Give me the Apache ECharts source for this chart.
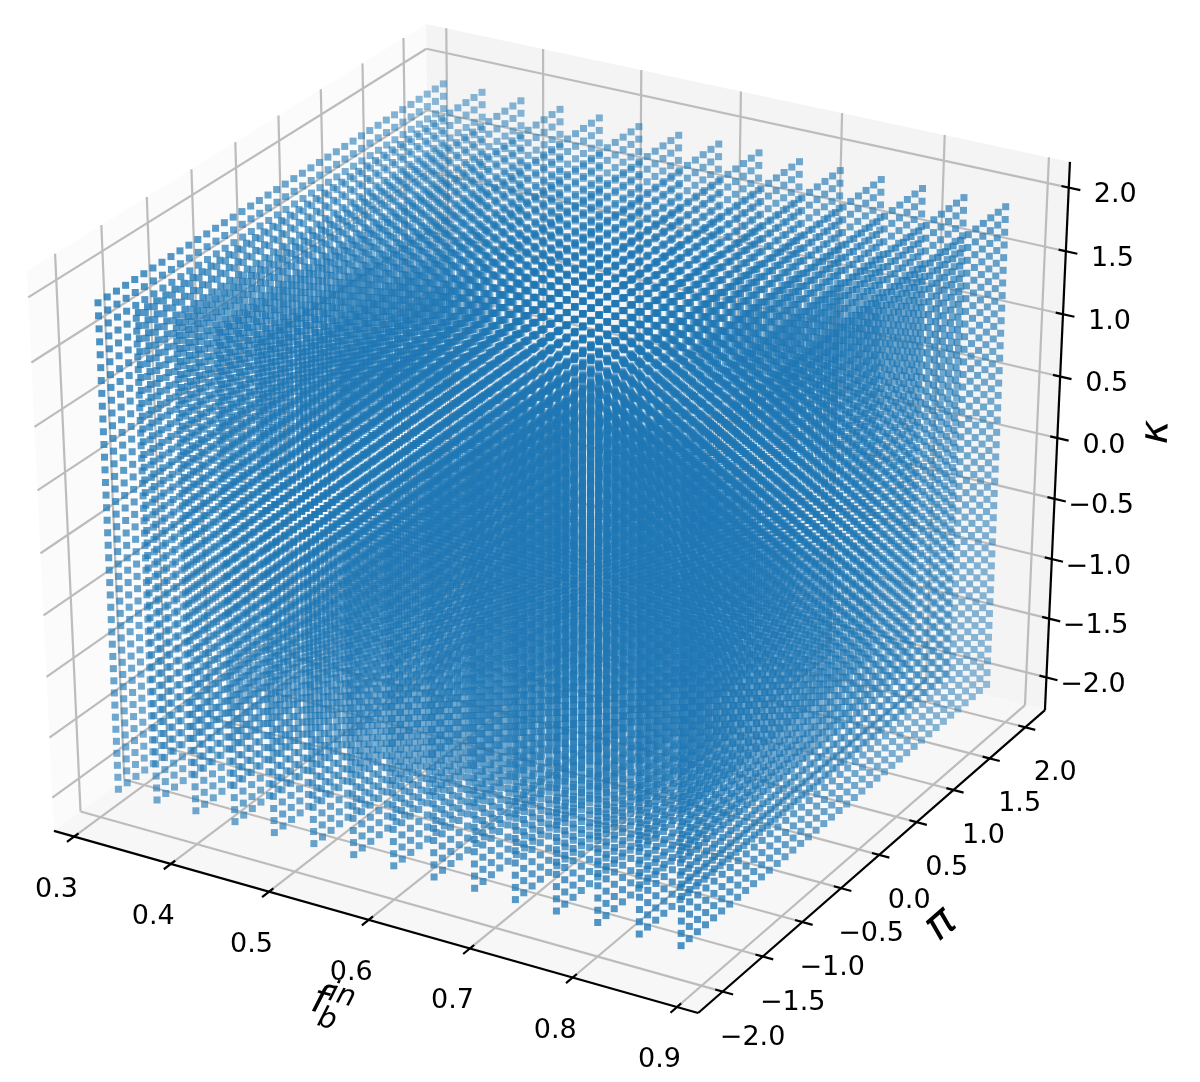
<!DOCTYPE html>
<html>
<head>
<meta charset="utf-8">
<title>scatter cube</title>
<script src="https://cdn.jsdelivr.net/npm/echarts@6/dist/echarts.min.js"></script>
<style>
html, body { margin: 0; padding: 0; background: #fff; }
#chart { width: 1200px; height: 1082px; }
</style>
</head>
<body>
<div id="chart"></div>
<script>
// grid of sampled parameters
const fValues = [0.32, 0.36, 0.40, 0.44, 0.48, 0.52, 0.56, 0.60, 0.64, 0.68, 0.72, 0.76, 0.80, 0.84, 0.88];
const piValues = [-2.0, -1.9, -1.8, -1.7, -1.6, -1.5, -1.4, -1.3, -1.2, -1.1, -1.0, -0.9, -0.8, -0.7, -0.6, -0.5, -0.4, -0.3, -0.2, -0.1,
  0.0, 0.1, 0.2, 0.3, 0.4, 0.5, 0.6, 0.7, 0.8, 0.9, 1.0, 1.1, 1.2, 1.3, 1.4, 1.5, 1.6, 1.7, 1.8, 1.9, 2.0];
const kappaValues = [-2.0, -1.9, -1.8, -1.7, -1.6, -1.5, -1.4, -1.3, -1.2, -1.1, -1.0, -0.9, -0.8, -0.7, -0.6, -0.5, -0.4, -0.3, -0.2, -0.1,
  0.0, 0.1, 0.2, 0.3, 0.4, 0.5, 0.6, 0.7, 0.8, 0.9, 1.0, 1.1, 1.2, 1.3, 1.4, 1.5, 1.6, 1.7, 1.8, 1.9];

const fTicks = [0.3, 0.4, 0.5, 0.6, 0.7, 0.8, 0.9];
const piTicks = [-2.0, -1.5, -1.0, -0.5, 0.0, 0.5, 1.0, 1.5, 2.0];
const kappaTicks = [-2.0, -1.5, -1.0, -0.5, 0.0, 0.5, 1.0, 1.5, 2.0];

// axis box limits
const fLim = [0.279, 0.92];
const piLim = [-2.3, 2.28];
const kappaLim = [-2.28, 2.2];

// where six corners of the unit box land on the page, fits the camera
const boxCorners = [[0, 0, 0], [1, 0, 0], [1, 1, 0], [1, 1, 1], [0, 1, 1], [0, 0, 1]];
const cornerPixels = [[54, 831], [698, 1013], [1045, 710], [1070, 162], [426, 24], [27, 271]];

function fitCamera() {
  let A = [], b = [];
  boxCorners.forEach((c, i) => {
    let u = cornerPixels[i][0] / 1000, v = cornerPixels[i][1] / 1000;
    A.push([c[0], c[1], c[2], 1, 0, 0, 0, 0, -u * c[0], -u * c[1], -u * c[2]]);
    b.push(u);
    A.push([0, 0, 0, 0, c[0], c[1], c[2], 1, -v * c[0], -v * c[1], -v * c[2]]);
    b.push(v);
  });
  let n = 11;
  let M = [];
  for (let i = 0; i < n; i++) {
    M.push([]);
    for (let j = 0; j <= n; j++) {
      let s = 0;
      for (let r = 0; r < A.length; r++) s += A[r][i] * (j < n ? A[r][j] : b[r]);
      M[i].push(s);
    }
  }
  for (let i = 0; i < n; i++) {
    let p = i;
    for (let r = i + 1; r < n; r++) if (Math.abs(M[r][i]) > Math.abs(M[p][i])) p = r;
    [M[i], M[p]] = [M[p], M[i]];
    for (let r = 0; r < n; r++) {
      if (r === i) continue;
      let k = M[r][i] / M[i][i];
      for (let j = i; j <= n; j++) M[r][j] -= k * M[i][j];
    }
  }
  return M.map((row, i) => row[n] / row[i]);
}
const cam = fitCamera();

function norm(f, p, k) {
  return [(f - fLim[0]) / (fLim[1] - fLim[0]), (p - piLim[0]) / (piLim[1] - piLim[0]), (k - kappaLim[0]) / (kappaLim[1] - kappaLim[0])];
}
function project(f, p, k) {
  let [x, y, z] = norm(f, p, k);
  let w = cam[8] * x + cam[9] * y + cam[10] * z + 1;
  return [1000 * (cam[0] * x + cam[1] * y + cam[2] * z + cam[3]) / w, 1000 * (cam[4] * x + cam[5] * y + cam[6] * z + cam[7]) / w];
}

// points, furthest from the viewer first
let points = [];
fValues.forEach(f => piValues.forEach(p => kappaValues.forEach(k => {
  let [x, y, z] = norm(f, p, k);
  let xy = project(f, p, k);
  points.push([xy[0], xy[1], 0.433 * x - 0.75 * y + 0.5 * z]);
})));
points.sort((a, b) => a[2] - b[2]);
let depthMin = points[0][2], depthMax = points[points.length - 1][2];

// walls
const [f0, f1] = fLim, [p0, p1] = piLim, [k0, k1] = kappaLim;
let panes = [
  {color: '#fbfbfb', c: [[f0, p0, k0], [f0, p1, k0], [f0, p1, k1], [f0, p0, k1]]},
  {color: '#f4f4f4', c: [[f0, p1, k0], [f1, p1, k0], [f1, p1, k1], [f0, p1, k1]]},
  {color: '#f7f7f7', c: [[f0, p0, k0], [f1, p0, k0], [f1, p1, k0], [f0, p1, k0]]},
];

let gridSegs = [], axisSegs = [], labels = [];
function seg(list, a, b) {
  list.push([...project(a[0], a[1], a[2]), ...project(b[0], b[1], b[2])]);
}
fTicks.forEach(f => {
  seg(gridSegs, [f, p0, k0], [f, p1, k0]);
  seg(gridSegs, [f, p1, k0], [f, p1, k1]);
  seg(axisSegs, [f, p0 - 0.08, k0], [f, p0 + 0.05, k0]);
  let q = project(f, p0, k0);
  labels.push({x: q[0] - 17.5, y: q[1] + 53, text: f.toFixed(1)});
});
piTicks.forEach(p => {
  seg(gridSegs, [f1, p, k0], [f0, p, k0]);
  seg(gridSegs, [f0, p, k0], [f0, p, k1]);
  seg(axisSegs, [f1 - 0.007, p, k0], [f1 + 0.010, p, k0]);
  let q = project(f1, p, k0);
  labels.push({x: q[0] + 30, y: q[1] + 46, text: p.toFixed(1).replace('-', '\u2212')});
});
kappaTicks.forEach(k => {
  seg(gridSegs, [f0, p0, k], [f0, p1, k]);
  seg(gridSegs, [f0, p1, k], [f1, p1, k]);
  seg(axisSegs, [f1 - 0.007, p1, k], [f1 + 0.011, p1, k]);
  let q = project(f1, p1, k);
  labels.push({x: q[0] + 46.5, y: q[1] + 7.5, text: k.toFixed(1).replace('-', '\u2212')});
});
seg(axisSegs, [f0, p0, k0], [f1, p0, k0]);
seg(axisSegs, [f1, p0, k0], [f1, p1, k0]);
seg(axisSegs, [f1, p1, k0], [f1, p1, k1]);

// axis names, angles follow the projected axes
let names = [
  {x: 1157, y: 432, text: '\u03ba', rot: 87.4, font: 'italic 40px "DejaVu Sans"'},
  {x: 941, y: 925, text: '\u03c0', rot: 41, font: 'italic 44px "DejaVu Sans"'},
  {x: 319, y: 1002, text: 'f', rot: -16, font: 'italic 40px "DejaVu Sans"'},
  {x: 342, y: 996, text: 'in', rot: -16, font: 'italic 29px "DejaVu Sans"'},
  {x: 327, y: 1020, text: 'b', rot: -16, font: 'italic 29px "DejaVu Sans"'},
];

function segSeries(data, color, width, z) {
  return {
    type: 'custom', data: data, z: z, silent: true, animation: false, clip: false,
    renderItem: (params, api) => {
      let a = api.coord([api.value(0), api.value(1)]);
      let b = api.coord([api.value(2), api.value(3)]);
      return {type: 'line', shape: {x1: a[0], y1: a[1], x2: b[0], y2: b[1]}, style: {stroke: color, lineWidth: width}};
    }
  };
}

let chart = echarts.init(document.getElementById('chart'), null, {renderer: 'canvas'});
chart.setOption({
  backgroundColor: '#ffffff',
  animation: false,
  grid: {left: 0, right: 0, top: 0, bottom: 0},
  xAxis: {type: 'value', min: 0, max: 1200, show: false},
  yAxis: {type: 'value', min: 0, max: 1082, inverse: true, show: false},
  visualMap: {
    show: false, type: 'continuous', seriesIndex: 3, dimension: 2,
    min: depthMin, max: depthMax,
    inRange: {opacity: [0.3, 1]}
  },
  series: [
    {
      type: 'custom', data: panes.map((d, i) => [i, i]), z: 1, silent: true, animation: false,
      renderItem: (params, api) => {
        let pane = panes[params.dataIndex];
        let pts = pane.c.map(c => api.coord(project(c[0], c[1], c[2])));
        return {type: 'polygon', shape: {points: pts}, style: {fill: pane.color}};
      }
    },
    segSeries(gridSegs, '#bcbcbc', 2.2, 2),
    segSeries(axisSegs, '#000000', 2.2, 3),
    {
      type: 'scatter', data: points, z: 4, silent: true, animation: false,
      symbol: 'rect', symbolSize: 7, progressive: 0, large: false,
      itemStyle: {color: '#1f77b4'}
    },
    {
      type: 'custom', data: labels.map(d => [d.x, d.y]), z: 5, silent: true, animation: false,
      renderItem: (params, api) => {
        let d = labels[params.dataIndex], c = api.coord([d.x, d.y]);
        return {type: 'text', x: c[0], y: c[1], style: {text: d.text, font: '27px "DejaVu Sans"', fill: '#000', align: 'center', verticalAlign: 'middle'}};
      }
    },
    {
      type: 'custom', data: names.map(d => [d.x, d.y]), z: 5, silent: true, animation: false,
      renderItem: (params, api) => {
        let d = names[params.dataIndex], c = api.coord([d.x, d.y]);
        return {type: 'text', x: c[0], y: c[1], rotation: d.rot * Math.PI / 180, style: {text: d.text, font: d.font, fill: '#000', align: 'center', verticalAlign: 'middle'}};
      }
    }
  ]
});
</script>
</body>
</html>
